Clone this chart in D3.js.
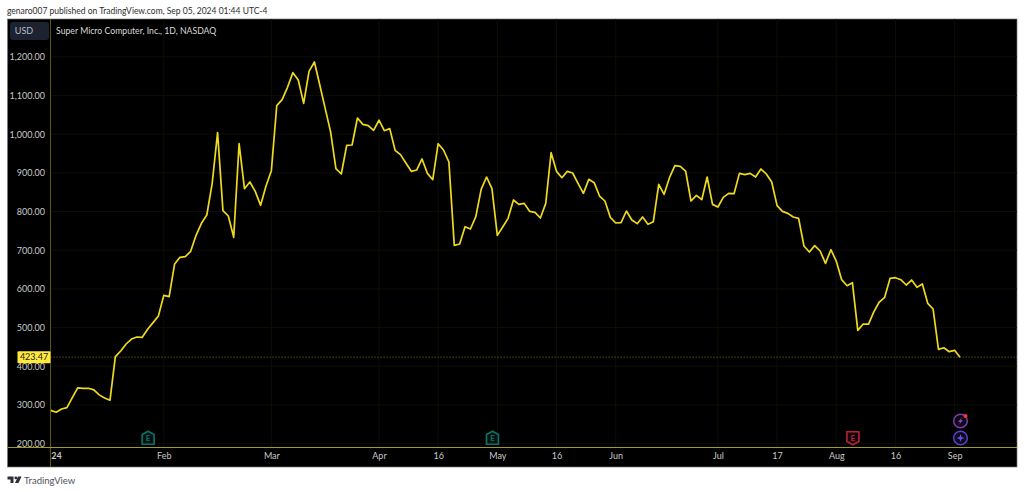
<!DOCTYPE html>
<html>
<head>
<meta charset="utf-8">
<script src="https://cdn.jsdelivr.net/npm/d3@7"></script>
<style>
  html, body { margin: 0; padding: 0; background: #fff; }
  svg { display: block; }
  text { font-family: Lato, "Open Sans", sans-serif; }
</style>
</head>
<body>
<div id="chart"></div>
<script>
// daily close, Jan 2 2024 to Sep 4 2024
var closes = [
  286, 281, 289.5, 293, 319, 344, 343, 343, 339, 326, 318, 312,
  424.7, 439.4, 457.5, 470.4, 475.6, 474.7, 495.4, 512.7, 529.9, 583.3, 579.9, 663.5,
  681.6, 683.3, 697.1, 738.4, 769.5, 791, 872.9, 1003.9, 802.2, 788.4, 733.3, 975.4,
  859.1, 876.3, 852.2, 816, 866, 905.6, 1073.7, 1089.2, 1121.1, 1159, 1140, 1079.7,
  1162.4, 1186.6, 1127, 1066.8, 1006.5, 910.8, 897, 971.1, 972, 1041.8, 1025.4, 1022,
  1010, 1036, 1009, 1014.2, 958.2, 947, 925.4, 903.9, 907.3, 935.8, 898.7, 882.3,
  975.4, 959, 928, 712.6, 716, 760.8, 754.8, 786.7, 857.3, 889.2, 859, 738.4,
  760, 782.4, 829.8, 818.6, 821.1, 800.5, 797.9, 783.2, 821.1, 952.1, 903.9, 887.5,
  903.9, 899.6, 872.9, 847, 883.2, 874.6, 840.1, 827.2, 785, 770.3, 771.2, 801.3,
  778.1, 768.6, 785.8, 766.9, 773.7, 870.3, 844.4, 887.5, 918.5, 916.8, 904.7, 827.1,
  841.8, 830.6, 889.2, 818.5, 811.6, 836.6, 847, 846.1, 898.7, 895.2, 898.7, 889.2,
  909.9, 897, 876.3, 815.1, 800.4, 795.3, 785.8, 782.3, 710.8, 695.3, 711.7, 697.9,
  666, 701.3, 672, 623.8, 608.2, 616, 492.8, 509.1, 509.1, 541, 566, 578.1,
  627.2, 628.9, 623.8, 610, 622.9, 603.9, 612.6, 562.6, 547.9, 443.6, 447.9, 437.6,
  441.1, 423.47
];

var priceTicks = [200, 300, 400, 500, 600, 700, 800, 900, 1000, 1100, 1200];
var lastPrice = 423.47;

// session index of each time axis label
var timeTickIndex = [0, 21, 41, 61, 72, 83, 94, 105, 124, 135, 146, 157, 168];
var timeTickLabels = ["24", "Feb", "Mar", "Apr", "16", "May", "16", "Jun", "Jul", "17", "Aug", "16", "Sep"];

var earningsUp = [18, 82];
var earningsDown = [149];
var eventIndex = [169];

var width = 1024, height = 492;
var svg = d3.select("#chart").append("svg")
  .attr("width", width)
  .attr("height", height);

var box = { left: 7.5, top: 19, right: 1017, bottom: 467 };
var plot = { left: 50.5, bottom: 447.5 };

var x = d3.scaleLinear().domain([0, 169]).range([50.8, 960]);
var y = d3.scaleLinear().domain([200, 1200]).range([443.6, 56.8]);

var gridColor = "#0e0e06";
var axisColor = "#5c5810";
var yellow = "#efd91f";

svg.append("text")
  .attr("x", 7)
  .attr("y", 14)
  .attr("font-size", 8.5)
  .attr("fill", "#2e2e2e")
  .text("genaro007 published on TradingView.com, Sep 05, 2024 01:44 UTC-4");

svg.append("rect")
  .attr("x", box.left)
  .attr("y", box.top)
  .attr("width", box.right - box.left)
  .attr("height", box.bottom - box.top)
  .attr("fill", "#000")
  .attr("stroke", "#777")
  .attr("stroke-width", 0.7);

// grid
svg.append("g").selectAll("line")
  .data(priceTicks)
  .enter().append("line")
  .attr("x1", plot.left)
  .attr("x2", box.right)
  .attr("y1", function (d) { return y(d); })
  .attr("y2", function (d) { return y(d); })
  .attr("stroke", gridColor);

svg.append("g").selectAll("line")
  .data(timeTickIndex.slice(1))
  .enter().append("line")
  .attr("x1", function (d) { return x(d); })
  .attr("x2", function (d) { return x(d); })
  .attr("y1", box.top)
  .attr("y2", plot.bottom)
  .attr("stroke", gridColor);

// axis lines
svg.append("line")
  .attr("x1", plot.left).attr("x2", plot.left)
  .attr("y1", box.top).attr("y2", box.bottom)
  .attr("stroke", axisColor);
svg.append("line")
  .attr("x1", box.left).attr("x2", box.right)
  .attr("y1", plot.bottom).attr("y2", plot.bottom)
  .attr("stroke", "#a39c1e");

var yAxis = d3.axisLeft(y)
  .tickValues(priceTicks)
  .tickSize(0)
  .tickPadding(5.5)
  .tickFormat(d3.format(",.2f"));
var yAxisG = svg.append("g")
  .attr("transform", "translate(" + plot.left + ",0)")
  .call(yAxis);
yAxisG.select(".domain").remove();
yAxisG.selectAll("text")
  .attr("font-size", 9)
  .attr("fill", "#c8c8c8")
  .style("font-family", 'Lato, sans-serif');

var xAxis = d3.axisBottom(x)
  .tickValues(timeTickIndex)
  .tickSize(0)
  .tickPadding(5)
  .tickFormat(function (d, i) { return timeTickLabels[i]; });
var xAxisG = svg.append("g")
  .attr("transform", "translate(0," + plot.bottom + ")")
  .call(xAxis);
xAxisG.select(".domain").remove();
xAxisG.selectAll("text")
  .attr("font-size", 9)
  .attr("fill", "#c8c8c8")
  .style("font-family", 'Lato, sans-serif');
xAxisG.selectAll("text").filter(function (d) { return d === 0; })
  .attr("text-anchor", "start")
  .attr("font-weight", "bold");

// last price line
svg.append("line")
  .attr("x1", plot.left)
  .attr("x2", box.right)
  .attr("y1", y(lastPrice))
  .attr("y2", y(lastPrice))
  .attr("stroke", "#8a8217")
  .attr("stroke-width", 0.8)
  .attr("stroke-dasharray", "1.2,1.8");

var line = d3.line()
  .x(function (d, i) { return x(i); })
  .y(function (d) { return y(d); });

svg.append("path")
  .datum(closes)
  .attr("d", line)
  .attr("fill", "none")
  .attr("stroke", yellow)
  .attr("stroke-width", 1.7)
  .attr("stroke-linejoin", "round");

// price label
svg.append("rect")
  .attr("x", 17.5)
  .attr("y", y(lastPrice) - 6)
  .attr("width", plot.left - 17.5)
  .attr("height", 12)
  .attr("rx", 1)
  .attr("fill", "#ffe93b");
svg.append("text")
  .attr("x", 34)
  .attr("y", y(lastPrice) + 3.2)
  .attr("text-anchor", "middle")
  .attr("font-size", 9)
  .attr("fill", "#222")
  .text(d3.format(".2f")(lastPrice));

// currency button and title
svg.append("rect")
  .attr("x", 10)
  .attr("y", 22)
  .attr("width", 39)
  .attr("height", 18)
  .attr("rx", 3)
  .attr("fill", "#1c2230");
svg.append("text")
  .attr("x", 24)
  .attr("y", 34)
  .attr("text-anchor", "middle")
  .attr("font-size", 9)
  .attr("fill", "#b8bcc6")
  .text("USD");
svg.append("text")
  .attr("x", 56)
  .attr("y", 34)
  .attr("font-size", 8.7)
  .attr("fill", "#d8d8d8")
  .text("Super Micro Computer, Inc., 1D, NASDAQ");

// earnings badges
function badge(index, up, color, fill) {
  var g = svg.append("g")
    .attr("transform", "translate(" + (x(index) + 0.5) + ",438)");
  g.append("path")
    .attr("d", up ? "M-6,-3.5 L0,-6.8 L6,-3.5 L6,6.3 L-6,6.3 Z" : "M-6,-6.3 L6,-6.3 L6,3.5 L0,6.8 L-6,3.5 Z")
    .attr("fill", fill)
    .attr("stroke", color)
    .attr("stroke-width", 1.6);
  g.append("text")
    .attr("y", 3)
    .attr("text-anchor", "middle")
    .attr("font-size", 8)
    .attr("font-weight", "bold")
    .attr("fill", color)
    .text("E");
}
earningsUp.forEach(function (d) { badge(d, true, "#0f6f6a", "#041312"); });
earningsDown.forEach(function (d) { badge(d, false, "#b5233a", "#160508"); });

// event circles
eventIndex.forEach(function (d) {
  var boltG = svg.append("g").attr("transform", "translate(" + (x(d) + 0.5) + ",421)");
  boltG.append("circle").attr("r", 6.8).attr("fill", "#100818").attr("stroke", "#7b3fa8").attr("stroke-width", 1.5);
  boltG.append("path").attr("d", "M1.5,-4 L-2.5,1 L-0.3,1 L-1.5,4 L2.5,-1 L0.3,-1 Z").attr("fill", "#8a45bd");
  boltG.append("circle").attr("cx", 5).attr("cy", -5).attr("r", 2).attr("fill", "#f23645");

  var starG = svg.append("g").attr("transform", "translate(" + (x(d) + 0.5) + ",438)");
  starG.append("circle").attr("r", 6.8).attr("fill", "#0e0a20").attr("stroke", "#5b3fd0").attr("stroke-width", 1.5);
  starG.append("path").attr("d", "M0,-4 L1,-1 L4,0 L1,1 L0,4 L-1,1 L-4,0 L-1,-1 Z").attr("fill", "#6a4fe0");
});

// footer logo
var logo = svg.append("g").attr("transform", "translate(7.5,476.5)");
logo.append("path").attr("d", "M0,0 H6 V6.5 H3 V3 H0 Z").attr("fill", "#2a2e39");
logo.append("circle").attr("cx", 8.3).attr("cy", 1.4).attr("r", 1.4).attr("fill", "#2a2e39");
logo.append("path").attr("d", "M10.5,0 H14 L11,6.5 H7.5 Z").attr("fill", "#2a2e39");
svg.append("text")
  .attr("x", 24)
  .attr("y", 484)
  .attr("font-size", 9.5)
  .attr("fill", "#50535e")
  .text("TradingView");
</script>
</body>
</html>
